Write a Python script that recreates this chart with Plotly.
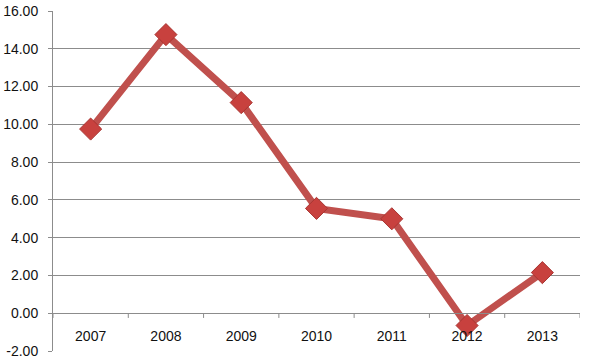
import plotly.graph_objects as go

years = ["2007", "2008", "2009", "2010", "2011", "2012", "2013"]
values = [9.75, 14.75, 11.15, 5.55, 5.0, -0.65, 2.15]
y_ticks = [-2, 0, 2, 4, 6, 8, 10, 12, 14, 16]

fig = go.Figure()
fig.add_trace(go.Scatter(
    x=list(range(len(years))), y=values, mode="lines+markers",
    line=dict(color="#C0504D", width=7),
    marker=dict(symbol="diamond", size=17, color="#C8413E",
                line=dict(color="#A93532", width=1)),
    showlegend=False,
))

fig.update_layout(
    width=589, height=363,
    margin=dict(l=53, r=9, t=11, b=12, autoexpand=False),
    paper_bgcolor="white", plot_bgcolor="white",
    font=dict(family="Liberation Sans, Arial", size=14, color="#111111"),
    yaxis=dict(
        range=[-2, 16], tickvals=y_ticks,
        ticktext=[f"{v:.2f}" for v in y_ticks],
        showgrid=True, gridcolor="#8C8C8C", gridwidth=1,
        zeroline=False, showline=True, linecolor="#8C8C8C", linewidth=1,
        ticks="outside", ticklen=4, tickcolor="#8C8C8C",
        tickfont=dict(size=14, color="#111111"),
        automargin=False, ticklabelstandoff=7,
    ),
    xaxis=dict(
        range=[-0.5, 6.5], tickvals=list(range(len(years))), ticktext=years,
        anchor="free", position=2 / 18,
        showgrid=False, zeroline=False,
        showline=True, linecolor="#8C8C8C", linewidth=1,
        ticks="", tickfont=dict(size=14, color="#111111"),
        ticklabelstandoff=10, automargin=False,
    ),
)

# category boundary tick marks on x axis (below the zero line)
for i in range(len(years) + 1):
    fig.add_shape(type="line", xref="x", yref="y",
                  x0=i - 0.5, x1=i - 0.5, y0=0, y1=-0.25,
                  line=dict(color="#8C8C8C", width=1), layer="below")

fig.write_html("out.html", config={"displayModeBar": False},
               post_script="document.body.style.margin='0';")
